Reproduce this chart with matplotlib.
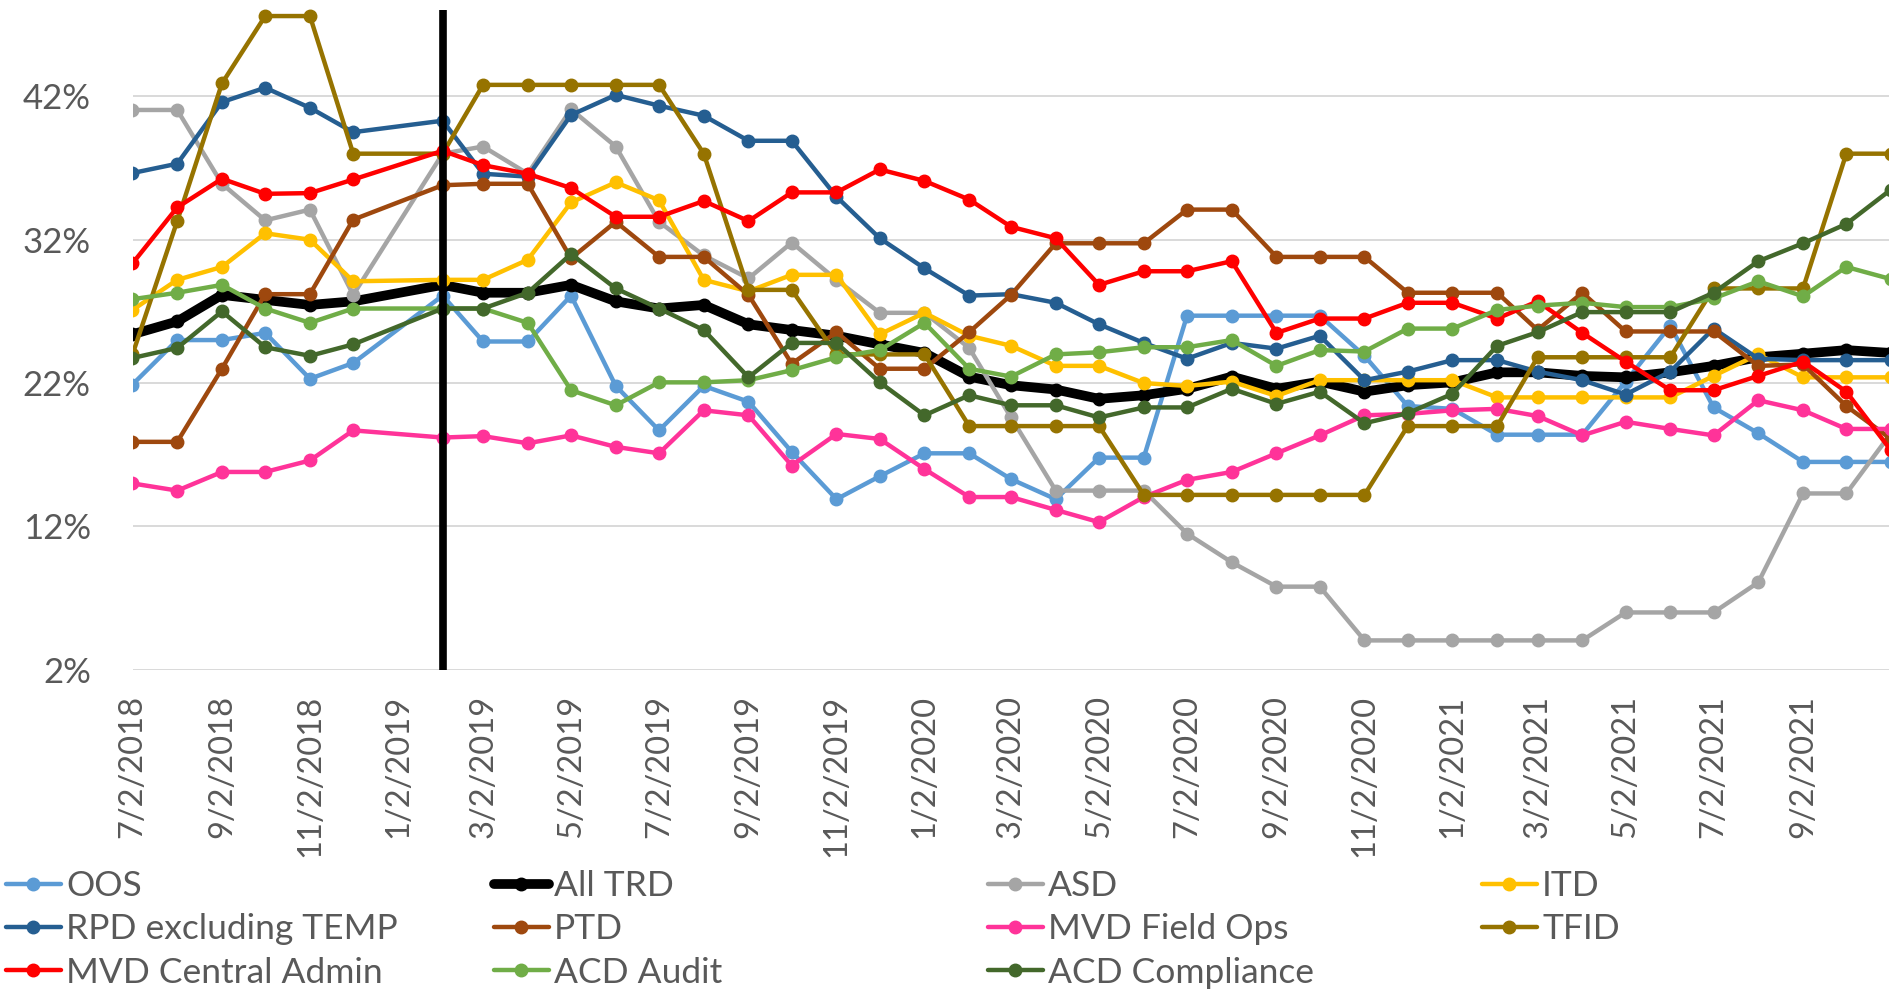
import numpy as np
import pandas as pd
import matplotlib
matplotlib.use('Agg')
import matplotlib.pyplot as plt

plt.rcParams['font.family'] = ['Lato', 'DejaVu Sans']

# monthly snapshots (no data for Jan 2019)
dates = pd.date_range('2018-07-01', '2021-11-01', freq='MS') + pd.Timedelta(days=1)
dates = dates[dates != pd.Timestamp('2019-01-02')]

oos = [21.9, 25.0, 25.0, 25.5, 22.3, 23.4, 28.1, 24.9, 24.9, 28.1, 21.8, 18.7, 21.8, 20.7,
       17.2, 13.9, 15.5, 17.1, 17.1, 15.3, 13.9, 16.8, 16.8, 26.7, 26.7, 26.7, 26.7, 23.9,
       20.4, 20.2, 18.4, 18.4, 18.4, 22.1, 26.0, 20.3, 18.5, 16.5, 16.5, 16.5]
all_trd = [25.4, 26.3, 28.15, 27.8, 27.45, 27.7, 28.85, 28.3, 28.3, 28.85, 27.7, 27.2, 27.45,
           26.1, 25.7, 25.3, 24.7, 24.1, 22.45, 21.85, 21.55, 20.9, 21.15, 21.6, 22.45, 21.6,
           22.1, 21.4, 21.85, 22.05, 22.75, 22.75, 22.5, 22.4, 22.75, 23.2, 23.8, 24.05, 24.3, 24.1]
asd = [41.05, 41.05, 35.9, 33.35, 34.1, 28.15, 38.0, 38.5, 36.6, 41.1, 38.5, 33.25, 30.9, 29.3,
       31.8, 29.2, 26.9, 26.9, 24.45, 19.6, 14.5, 14.5, 14.5, 11.5, 9.5, 7.8, 7.8, 4.05, 4.05,
       4.05, 4.05, 4.05, 4.05, 6.0, 6.0, 6.0, 8.1, 14.3, 14.3, 18.5]
itd = [27.1, 29.2, 30.1, 32.45, 32.0, 29.1, 29.2, 29.2, 30.6, 34.6, 36.0, 34.75, 29.2, 28.4,
       29.55, 29.55, 25.4, 26.9, 25.3, 24.6, 23.2, 23.2, 22.0, 21.8, 22.1, 21.1, 22.2, 22.2,
       22.2, 22.2, 21.0, 21.0, 21.0, 21.0, 21.0, 22.5, 24.0, 22.4, 22.4, 22.4]
rpd = [36.65, 37.3, 41.6, 42.6, 41.2, 39.5, 40.3, 36.6, 36.4, 40.7, 42.1, 41.35, 40.65, 38.9,
       38.9, 35.0, 32.1, 30.0, 28.1, 28.2, 27.6, 26.1, 24.8, 23.7, 24.8, 24.4, 25.3, 22.2, 22.8,
       23.6, 23.6, 22.8, 22.2, 21.2, 22.8, 25.8, 23.7, 23.6, 23.6, 23.6]
ptd = [17.9, 17.9, 23.0, 28.2, 28.2, 33.4, 35.8, 35.9, 35.9, 30.7, 33.25, 30.8, 30.8, 28.15,
       23.35, 25.55, 23.0, 23.0, 25.55, 28.15, 31.75, 31.75, 31.75, 34.1, 34.1, 30.8, 30.8, 30.8,
       28.3, 28.3, 28.3, 25.7, 28.3, 25.6, 25.6, 25.6, 23.2, 23.3, 20.4, 18.1]
mvd_field = [15.0, 14.5, 15.8, 15.8, 16.6, 18.7, 18.2, 18.3, 17.8, 18.35, 17.55, 17.1, 20.1,
             19.75, 16.25, 18.45, 18.1, 16.0, 14.05, 14.05, 13.15, 12.3, 14.05, 15.25, 15.8, 17.1,
             18.35, 19.75, 19.85, 20.1, 20.2, 19.7, 18.35, 19.3, 18.8, 18.35, 20.8, 20.1, 18.8, 18.8]
tfid = [24.0, 33.3, 42.9, 47.6, 47.6, 38.0, 38.0, 42.8, 42.8, 42.8, 42.8, 42.8, 38.0, 28.5, 28.5,
        24.0, 24.0, 24.0, 19.0, 19.0, 19.0, 19.0, 14.2, 14.2, 14.2, 14.2, 14.2, 14.2, 19.0, 19.0,
        19.0, 23.8, 23.8, 23.8, 23.8, 28.6, 28.6, 28.6, 38.0, 38.0]
mvd_central = [30.35, 34.25, 36.25, 35.2, 35.25, 36.2, 38.2, 37.2, 36.6, 35.6, 33.6, 33.6, 34.7,
               33.3, 35.3, 35.3, 36.9, 36.1, 34.8, 32.9, 32.1, 28.85, 29.8, 29.8, 30.5, 25.5, 26.5,
               26.5, 27.6, 27.6, 26.5, 27.7, 25.5, 23.5, 21.5, 21.5, 22.5, 23.5, 21.4, 17.3]
acd_audit = [27.85, 28.3, 28.85, 27.2, 26.2, 27.2, 27.2, 27.2, 26.2, 21.5, 20.45, 22.05, 22.05,
             22.2, 22.9, 23.8, 24.3, 26.2, 23.0, 22.45, 24.0, 24.15, 24.5, 24.5, 25.0, 23.2, 24.3,
             24.2, 25.8, 25.8, 27.1, 27.4, 27.6, 27.3, 27.3, 27.9, 29.1, 28.05, 30.1, 29.25]
acd_comp = [23.75, 24.45, 27.0, 24.5, 23.9, 24.7, 27.2, 27.2, 28.3, 31.0, 28.6, 27.2, 25.7, 22.4,
            24.8, 24.8, 22.05, 19.75, 21.15, 20.45, 20.45, 19.6, 20.3, 20.3, 21.6, 20.55, 21.4,
            19.2, 19.9, 21.25, 24.6, 25.55, 26.95, 26.95, 26.95, 28.3, 30.5, 31.75, 33.1, 35.5]

series = [
    ('OOS', oos, '#5B9BD5'),
    ('All TRD', all_trd, '#000000'),
    ('ASD', asd, '#A5A5A5'),
    ('ITD', itd, '#FFC000'),
    ('RPD excluding TEMP', rpd, '#255E91'),
    ('PTD', ptd, '#9E480E'),
    ('MVD Field Ops', mvd_field, '#FF3399'),
    ('TFID', tfid, '#967300'),
    ('MVD Central Admin', mvd_central, '#FF0000'),
    ('ACD Audit', acd_audit, '#70AD47'),
    ('ACD Compliance', acd_comp, '#43682B'),
]

yticks = [2, 12, 22, 32, 42]
tick_dates = pd.date_range('2018-07-01', '2021-09-01', freq='2MS') + pd.Timedelta(days=1)
tick_labels = [f'{d.month}/{d.day}/{d.year}' for d in tick_dates]
marker_date = pd.Timestamp('2019-02-02')

fig = plt.figure(figsize=(18.89, 9.90), dpi=100)
ax = fig.add_axes([132.5 / 1889, 1 - 669.8 / 990, 1 - 132.5 / 1889, 669.8 / 990])

handles = []
for name, vals, col in series:
    lw = 7 if name == 'All TRD' else 3.2
    h, = ax.plot(dates, vals, color=col, lw=lw, marker='o', ms=9,
                 solid_joinstyle='round', solid_capstyle='round', label=name)
    handles.append(h)

ax.vlines(marker_date, 2, 48.05, color='black', lw=5.5, zorder=20)

ax.set_ylim(2, 48.72)
ax.set_xlim(pd.Timestamp('2018-07-02'), pd.Timestamp('2018-07-02') + pd.Timedelta(days=1217.6))
ax.set_yticks(yticks)
ax.set_yticklabels([f'{v}%' for v in yticks])
ax.set_xticks(tick_dates)
ax.set_xticklabels(tick_labels, rotation=90)
ax.tick_params(axis='both', length=0, labelcolor='#595959')
ax.tick_params(axis='y', pad=30, labelsize=25)
ax.tick_params(axis='x', pad=18, labelsize=23.5)
ax.grid(axis='y', color='#D9D9D9', lw=1.4)
ax.set_axisbelow(True)
for s in ax.spines.values():
    s.set_visible(False)

# Excel style legend: 4 fixed-width columns, filled row by row
col_x = [6, 494, 988, 1482]
for c in range(4):
    hs = [handles[i] for i in range(c, len(handles), 4)]
    leg = fig.legend(handles=hs, labels=[h.get_label() for h in hs], loc='upper left',
                     bbox_to_anchor=(col_x[c] / 1889, 1 - 870 / 990), frameon=False,
                     fontsize=25.5, labelcolor='#595959', handlelength=1.55, handletextpad=0.15,
                     labelspacing=0.32, borderpad=0, borderaxespad=0)

fig.savefig('out.png', dpi=100)
